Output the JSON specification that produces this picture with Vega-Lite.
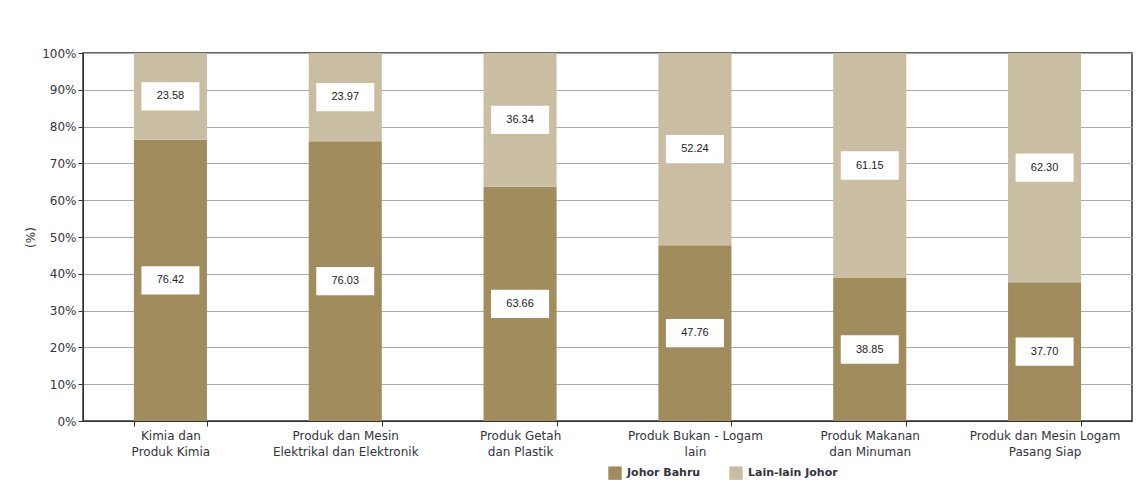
{
  "$schema": "https://vega.github.io/schema/vega-lite/v6.json",
  "width": 1049,
  "height": 368,
  "autosize": {"type": "none"},
  "padding": {"left": 83, "top": 53, "right": 5, "bottom": 79},
  "background": "white",
  "config": {
    "font": "DejaVu Sans",
    "view": {"stroke": "#333333", "strokeWidth": 1.5},
    "axis": {"labelColor": "#33333f", "titleColor": "#33333f", "domainColor": "#333333", "tickColor": "#333333"},
    "axisY": {
      "tickCount": 12,
      "labelOverlap": false,
      "labelFontSize": 12,
      "labelPadding": 2,
      "tickSize": 5,
      "grid": true,
      "gridColor": "#aaaaaa",
      "gridWidth": 1.2,
      "titleFontWeight": "normal",
      "titleFontSize": 12
    }
  },
  "data": {
    "values": [
      {"category": "Kimia dan Produk Kimia", "series": "Johor Bahru", "value": 76.42},
      {"category": "Kimia dan Produk Kimia", "series": "Lain-lain Johor", "value": 23.58},
      {"category": "Produk dan Mesin Elektrikal dan Elektronik", "series": "Johor Bahru", "value": 76.03},
      {"category": "Produk dan Mesin Elektrikal dan Elektronik", "series": "Lain-lain Johor", "value": 23.97},
      {"category": "Produk Getah dan Plastik", "series": "Johor Bahru", "value": 63.66},
      {"category": "Produk Getah dan Plastik", "series": "Lain-lain Johor", "value": 36.34},
      {"category": "Produk Bukan - Logam lain", "series": "Johor Bahru", "value": 47.76},
      {"category": "Produk Bukan - Logam lain", "series": "Lain-lain Johor", "value": 52.24},
      {"category": "Produk Makanan dan Minuman", "series": "Johor Bahru", "value": 38.85},
      {"category": "Produk Makanan dan Minuman", "series": "Lain-lain Johor", "value": 61.15},
      {"category": "Produk dan Mesin Logam Pasang Siap", "series": "Johor Bahru", "value": 37.70},
      {"category": "Produk dan Mesin Logam Pasang Siap", "series": "Lain-lain Johor", "value": 62.30}
    ]
  },
  "transform": [
    {"stack": "value", "groupby": ["category"], "sort": [{"field": "series", "order": "ascending"}], "as": ["v0", "v1"]},
    {"calculate": "(datum.v0 + datum.v1) / 2", "as": "mid"}
  ],
  "encoding": {
    "x": {
      "field": "category",
      "type": "nominal",
      "sort": null,
      "scale": {"paddingInner": 0.582, "paddingOuter": 0.291},
      "axis": {
        "title": null,
        "labelAngle": 0,
        "tickBand": "extent",
        "tickSize": 5,
        "labelPadding": 4,
        "labelFontSize": 12,
        "labelLineHeight": 16,
        "labelExpr": "{'Kimia dan Produk Kimia': ['Kimia dan', 'Produk Kimia'], 'Produk dan Mesin Elektrikal dan Elektronik': ['Produk dan Mesin', 'Elektrikal dan Elektronik'], 'Produk Getah dan Plastik': ['Produk Getah', 'dan Plastik'], 'Produk Bukan - Logam lain': ['Produk Bukan - Logam', 'lain'], 'Produk Makanan dan Minuman': ['Produk Makanan', 'dan Minuman'], 'Produk dan Mesin Logam Pasang Siap': ['Produk dan Mesin Logam', 'Pasang Siap']}[datum.label]"
      }
    }
  },
  "layer": [
    {
      "mark": {"type": "bar"},
      "encoding": {
        "y": {
          "field": "v0",
          "type": "quantitative",
          "scale": {"domain": [0, 100], "nice": false},
          "axis": {"title": "(%)", "tickCount": 12, "values": [0, 10, 20, 30, 40, 50, 60, 70, 80, 90, 100], "labelExpr": "datum.value + '%'"}
        },
        "y2": {"field": "v1"},
        "color": {
          "field": "series",
          "type": "nominal",
          "scale": {"domain": ["Johor Bahru", "Lain-lain Johor"], "range": ["#A18C5E", "#C9BEA2"]},
          "legend": {
            "orient": "none",
            "legendX": 525,
            "legendY": 413,
            "direction": "horizontal",
            "title": null,
            "symbolType": "square",
            "symbolSize": 180,
            "symbolStrokeWidth": 0,
            "labelFontWeight": "bold",
            "labelFontSize": 11,
            "labelOffset": 5,
            "labelColor": "#33333f",
            "columnPadding": 28
          }
        }
      }
    },
    {
      "mark": {"type": "point", "shape": "M-1,-0.49H1V0.49H-1Z", "filled": true, "size": 3364, "color": "white", "opacity": 1},
      "encoding": {"y": {"field": "mid", "type": "quantitative", "axis": {"title": "(%)", "tickCount": 12, "values": [0, 10, 20, 30, 40, 50, 60, 70, 80, 90, 100], "labelExpr": "datum.value + '%'"}}}
    },
    {
      "mark": {"type": "text", "font": "Liberation Sans", "fontSize": 11, "color": "#222222"},
      "encoding": {
        "y": {"field": "mid", "type": "quantitative", "axis": {"title": "(%)", "tickCount": 12, "values": [0, 10, 20, 30, 40, 50, 60, 70, 80, 90, 100], "labelExpr": "datum.value + '%'"}},
        "text": {"field": "value", "type": "quantitative", "format": ".2f"}
      }
    }
  ]
}
